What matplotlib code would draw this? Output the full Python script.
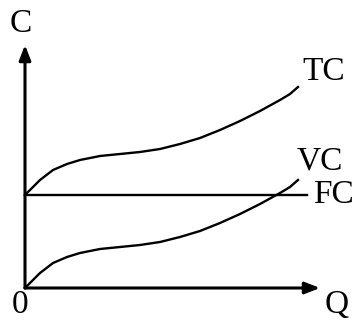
import numpy as np
import matplotlib
matplotlib.use("Agg")
import matplotlib.pyplot as plt

# quantity (px from origin) and variable cost
q = [0, 15, 28, 42, 55, 75, 95, 115, 135, 155, 175, 195, 215, 235, 255, 265, 273]
vc = [0, 15, 25, 31, 35, 39, 41, 43, 46, 51, 57, 65, 74, 84, 95, 101, 108]
fc = 93
fc_end = 282
tc = [v + fc for v in vc]

ox, oy = 25, 288  # origin in pixels

fig = plt.figure(figsize=(3.54, 3.22), dpi=100)
ax = fig.add_axes([0, 0, 1, 1])
ax.set_xlim(-ox, 354 - ox)
ax.set_ylim(oy - 322, oy)
ax.axis("off")

# axes with arrows
arrow = dict(arrowstyle="-|>,head_length=0.9,head_width=0.35",
             lw=2.2, color="black", shrinkA=0, shrinkB=0)
ax.annotate("", xy=(295, 0), xytext=(0, 0), arrowprops=arrow)
ax.annotate("", xy=(0, 243), xytext=(0, 0), arrowprops=arrow)

ax.plot(q, vc, color="black", lw=1.7, solid_joinstyle="round")
ax.plot(q, tc, color="black", lw=1.7, solid_joinstyle="round")
ax.plot([0, fc_end], [fc, fc], color="black", lw=1.7)

font = dict(family="Liberation Serif", fontsize=24, color="black")
ax.text(-4, 264, "C", ha="center", va="center", **font)
ax.text(-5, -32, "0", ha="center", va="bottom", **font)
ax.text(312, -32, "Q", ha="center", va="bottom", **font)
ax.text(299, 216, "TC", ha="center", va="center", **font)
ax.text(295, 127, "VC", ha="center", va="center", **font)
ax.text(308, 93, "FC", ha="center", va="center", **font)

fig.savefig("out.png", dpi=100)
